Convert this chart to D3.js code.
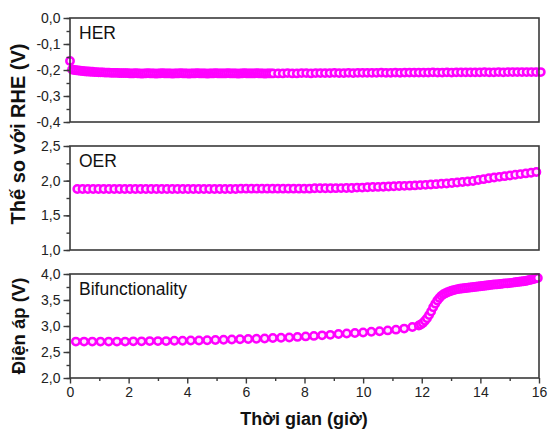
<!DOCTYPE html>
<html>
<head>
<meta charset="utf-8">
<script src="https://cdn.jsdelivr.net/npm/d3@7"></script>
<style>
  html, body { margin: 0; padding: 0; background: #fff; }
  svg { display: block; font-family: "Liberation Sans", Arial, sans-serif; }
</style>
</head>
<body>
<div id="chart"></div>
<script>
// ---- data (time in hours, potential in V) ----
// HER: dense logging for the first 7 h, then sparser
const herDenseStart = 0, herDenseStep = 0.07;
const herDense = [
  -0.165, -0.198, -0.200, -0.201, -0.202, -0.203, -0.204, -0.205, -0.206, -0.206,
  -0.207, -0.207, -0.208, -0.208, -0.209, -0.209, -0.209, -0.210, -0.210, -0.210,
  -0.211, -0.211, -0.211, -0.211, -0.212, -0.212, -0.212, -0.212, -0.212, -0.213,
  -0.213, -0.213, -0.212, -0.213, -0.213, -0.214, -0.213, -0.213, -0.212, -0.213,
  -0.213, -0.213, -0.214, -0.213, -0.213, -0.212, -0.213, -0.213, -0.213, -0.213,
  -0.214, -0.213, -0.213, -0.213, -0.212, -0.213, -0.213, -0.213, -0.214, -0.213,
  -0.213, -0.213, -0.212, -0.213, -0.213, -0.213, -0.213, -0.214, -0.213, -0.213,
  -0.213, -0.212, -0.213, -0.213, -0.213, -0.213, -0.213, -0.212, -0.213, -0.213,
  -0.213, -0.213, -0.214, -0.213, -0.213, -0.212, -0.213, -0.213, -0.213, -0.213,
  -0.213, -0.212, -0.213, -0.213, -0.213, -0.214, -0.213, -0.213, -0.213, -0.213
];
const herSparseStart = 7.1, herSparseStep = 0.16;
const herSparse = [
  -0.213, -0.213, -0.212, -0.213, -0.213, -0.212, -0.212, -0.213, -0.212, -0.212,
  -0.212, -0.212, -0.211, -0.212, -0.212, -0.211, -0.212, -0.211, -0.211, -0.211,
  -0.211, -0.211, -0.210, -0.211, -0.211, -0.210, -0.211, -0.210, -0.210, -0.210,
  -0.210, -0.210, -0.210, -0.209, -0.210, -0.210, -0.209, -0.210, -0.209, -0.209,
  -0.209, -0.209, -0.209, -0.209, -0.208, -0.209, -0.209, -0.208, -0.209, -0.208,
  -0.208, -0.208, -0.208, -0.208, -0.208, -0.208, -0.208
];

// OER
const oerStart = 0.25, oerStep = 0.18;
const oer = [
  1.880, 1.880, 1.880, 1.880, 1.880, 1.880, 1.880, 1.880, 1.880, 1.880,
  1.880, 1.880, 1.880, 1.880, 1.880, 1.880, 1.880, 1.880, 1.880, 1.880,
  1.880, 1.880, 1.880, 1.880, 1.880, 1.880, 1.880, 1.880, 1.880, 1.880,
  1.880, 1.885, 1.885, 1.885, 1.885, 1.885, 1.885, 1.885, 1.885, 1.885,
  1.885, 1.885, 1.885, 1.885, 1.885, 1.890, 1.890, 1.890, 1.890, 1.892,
  1.893, 1.894, 1.895, 1.900, 1.900, 1.905, 1.908, 1.910, 1.913, 1.916,
  1.920, 1.922, 1.925, 1.928, 1.932, 1.936, 1.940, 1.945, 1.950, 1.955,
  1.960, 1.966, 1.973, 1.980, 1.988, 1.996, 2.010, 2.022, 2.034, 2.045,
  2.055, 2.065, 2.075, 2.085, 2.095, 2.105, 2.115, 2.125
];

// Bifunctional cell voltage: sparse before the jump, dense after
const bifASt = 0.2, bifAStep = 0.28;
const bifA = [
  2.700, 2.700, 2.700, 2.700, 2.700, 2.700, 2.700, 2.705, 2.705, 2.710,
  2.710, 2.710, 2.715, 2.715, 2.720, 2.720, 2.725, 2.730, 2.735, 2.740,
  2.745, 2.750, 2.755, 2.760, 2.770, 2.775, 2.780, 2.790, 2.800, 2.810,
  2.820, 2.830, 2.845, 2.855, 2.865, 2.875, 2.890, 2.900, 2.915, 2.930,
  2.950, 2.980
];
const bifBSt = 11.9, bifBStep = 0.07;
const bifB = [
  3.010, 3.030, 3.060, 3.100, 3.150, 3.210, 3.280, 3.360, 3.430, 3.490,
  3.540, 3.580, 3.610, 3.630, 3.650, 3.665, 3.680, 3.690, 3.700, 3.710,
  3.715, 3.720, 3.725, 3.730, 3.735, 3.740, 3.745, 3.750, 3.755, 3.760,
  3.765, 3.770, 3.775, 3.780, 3.785, 3.790, 3.795, 3.800, 3.800, 3.805,
  3.810, 3.815, 3.820, 3.820, 3.825, 3.830, 3.835, 3.840, 3.845, 3.850,
  3.855, 3.860, 3.865, 3.875, 3.885, 3.895, 3.905, 3.915, 3.925
];

const xTicks = [0, 2, 4, 6, 8, 10, 12, 14, 16];
const panelNames = ['HER', 'OER', 'Bifunctionality'];
const panelDomains = [[-0.4, 0.0], [1.0, 2.5], [2.0, 4.0]];
const panelTicks = [
  [-0.4, -0.3, -0.2, -0.1, 0.0],
  [1.0, 1.5, 2.0, 2.5],
  [2.0, 2.5, 3.0, 3.5, 4.0]
];
const panelMinor = [0.05, 0.25, 0.25];

// ---- layout ----
const W = 548, H = 430;
const left = 70, right = 539;
const panelTop = [18, 146, 274];
const panelH = 104;
const magenta = '#ff00ff';
const axisColor = '#3a3a3a';
const tickFont = 14;

const fmt = d3.formatLocale({ decimal: ',', thousands: '.', grouping: [3], currency: ['', ''], minus: '-' }).format('.1f');

const toPoints = (vals, t0, dt) => vals.map((v, i) => ({ t: t0 + i * dt, v }));
const panelData = [
  toPoints(herDense, herDenseStart, herDenseStep).concat(toPoints(herSparse, herSparseStart, herSparseStep)),
  toPoints(oer, oerStart, oerStep),
  toPoints(bifA, bifASt, bifAStep).concat(toPoints(bifB, bifBSt, bifBStep))
];

const svg = d3.select('#chart').append('svg')
  .attr('width', W)
  .attr('height', H);

const x = d3.scaleLinear().domain([0, 16]).range([left, right]);

panelNames.forEach((name, p) => {
  const top = panelTop[p];
  const y = d3.scaleLinear().domain(panelDomains[p]).range([top + panelH, top]);
  const g = svg.append('g');

  // markers: white-filled open circles, drawn in time order so they overlap like the original
  g.append('g').selectAll('circle')
    .data(panelData[p])
    .join('circle')
    .attr('cx', d => x(d.t))
    .attr('cy', d => y(d.v))
    .attr('r', 3.7)
    .attr('fill', '#ffe4ff')
    .attr('stroke', magenta)
    .attr('stroke-width', 2.5);

  // minor y ticks
  const [lo, hi] = panelDomains[p];
  const minors = d3.range(Math.round((hi - lo) / panelMinor[p]) + 1)
    .map(i => lo + i * panelMinor[p]);
  g.append('g')
    .attr('transform', `translate(${left},0)`)
    .call(d3.axisLeft(y).tickValues(minors).tickSize(3.5).tickFormat(''))
    .call(a => a.select('.domain').remove())
    .call(a => a.selectAll('line').attr('stroke', axisColor).attr('stroke-width', 1.4));

  // major y ticks
  g.append('g')
    .attr('transform', `translate(${left},0)`)
    .call(d3.axisLeft(y).tickValues(panelTicks[p]).tickSize(6.5).tickPadding(3).tickFormat(fmt))
    .call(a => a.select('.domain').remove())
    .call(a => a.selectAll('line').attr('stroke', axisColor).attr('stroke-width', 1.4))
    .call(a => a.selectAll('text')
      .attr('font-size', tickFont)
      .attr('fill', '#222')
      .attr('font-family', '"Liberation Sans", Arial, sans-serif'));

  // frame
  g.append('rect')
    .attr('x', left)
    .attr('y', top)
    .attr('width', right - left)
    .attr('height', panelH)
    .attr('fill', 'none')
    .attr('stroke', axisColor)
    .attr('stroke-width', 1.6);

  // panel label
  g.append('text')
    .attr('x', left + 9)
    .attr('y', top + 21)
    .attr('font-size', 17.5)
    .attr('fill', '#111')
    .text(name);

  // x axis only on the bottom panel
  if (p === 2) {
    g.append('g')
      .attr('transform', `translate(0,${top + panelH})`)
      .call(d3.axisBottom(x).tickValues(d3.range(1, 16, 2)).tickSize(3).tickFormat(''))
      .call(a => a.select('.domain').remove())
      .call(a => a.selectAll('line').attr('stroke', axisColor).attr('stroke-width', 1.4));
    g.append('g')
      .attr('transform', `translate(0,${top + panelH})`)
      .call(d3.axisBottom(x).tickValues(xTicks).tickSize(5.5).tickPadding(4).tickFormat(d3.format('d')))
      .call(a => a.select('.domain').remove())
      .call(a => a.selectAll('line').attr('stroke', axisColor).attr('stroke-width', 1.4))
      .call(a => a.selectAll('text')
        .attr('font-size', tickFont)
        .attr('fill', '#222')
        .attr('font-family', '"Liberation Sans", Arial, sans-serif'));
  }
});

// axis titles
svg.append('text')
  .attr('x', 304)
  .attr('y', 425)
  .attr('text-anchor', 'middle')
  .attr('font-size', 18)
  .attr('font-weight', 'bold')
  .attr('fill', '#111')
  .text('Thời gian (giờ)');

svg.append('text')
  .attr('transform', `translate(25,${(panelTop[0] + panelTop[1] + panelH) / 2}) rotate(-90)`)
  .attr('text-anchor', 'middle')
  .attr('font-size', 20)
  .attr('font-weight', 'bold')
  .attr('fill', '#111')
  .text('Thế so với RHE (V)');

svg.append('text')
  .attr('transform', `translate(25,${panelTop[2] + panelH / 2}) rotate(-90)`)
  .attr('text-anchor', 'middle')
  .attr('font-size', 18.5)
  .attr('font-weight', 'bold')
  .attr('fill', '#111')
  .text('Điện áp (V)');
</script>
</body>
</html>
